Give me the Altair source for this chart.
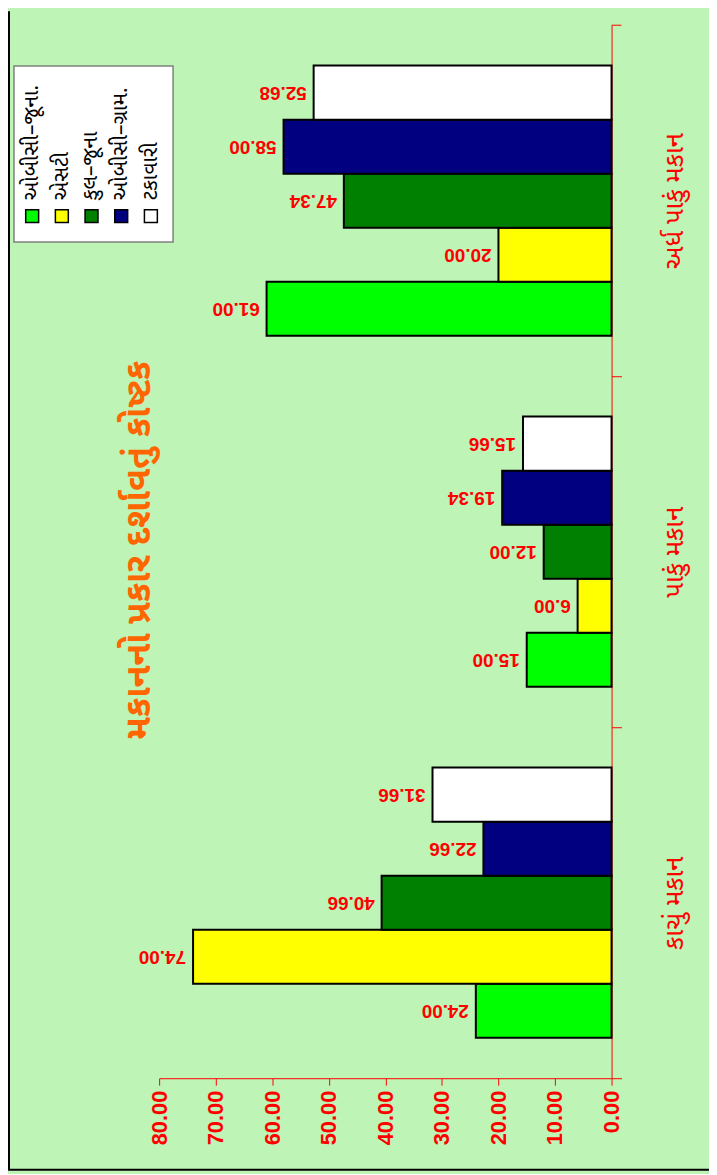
import altair as alt
import pandas as pd

categories = ["કાચું મકાન", "પાકું મકાન", "અર્ધ પાકું મકાન"]
series = ["ઓબીસી–જૂના.", "એસટી", "કુલ–જૂના", "ઓબીસી–ગ્રામ.", "ટકાવારી"]
colors = ["#00ff00", "#ffff00", "#008000", "#000080", "#ffffff"]
values_kachu = [24.00, 74.00, 40.66, 22.66, 31.66]
values_paku = [15.00, 6.00, 12.00, 19.34, 15.66]
values_ardh = [61.00, 20.00, 47.34, 58.00, 52.68]
value_ticks = [0, 10, 20, 30, 40, 50, 60, 70, 80]
title_text = "મકાનનો પ્રકાર દર્શાવતું કોષ્ટક"

rows = []
for cat, vals in zip(categories, [values_kachu, values_paku, values_ardh]):
    for s, v in zip(series, vals):
        rows.append({"cat": cat, "series": s, "value": v})
df = pd.DataFrame(rows)
legend_df = pd.DataFrame({"series": series})
title_df = pd.DataFrame({"t": [title_text]})
one = pd.DataFrame({"a": [0]})

GUJ = "Noto Sans Gujarati, Lohit Gujarati, Noto Sans, sans-serif"
NUM = "Liberation Sans, Arial, sans-serif"
STEP = 1059 / 3.0

x_enc = alt.X(
    "value:Q",
    scale=alt.Scale(domain=[0, 80], reverse=True, nice=False, zero=True),
    axis=alt.Axis(
        values=value_ticks, format=".2f", labelAngle=270, labelAlign="right",
        labelBaseline="middle", labelColor="red", labelFont=NUM,
        labelFontWeight="bold", labelFontSize=22, labelPadding=5,
        domainColor="red", tickColor="red", tickSize=7, grid=False,
        title=None, labelOverlap=False, labelFlush=False,
    ),
)
y_enc = alt.Y(
    "cat:N",
    sort=list(reversed(categories)),
    scale=alt.Scale(paddingInner=0.23, paddingOuter=0.115),
    axis=alt.Axis(
        orient="right", labelAngle=270, labelAlign="center", labelBaseline="top",
        labelColor="red", labelFont=GUJ, labelFontSize=26, labelPadding=40,
        domainColor="red", tickColor="red", tickSize=10,
        tickOffset=STEP / 2, labelOffset=-STEP / 2,
        grid=False, title=None,
    ),
)
yoff = alt.YOffset("series:N", sort=list(reversed(series)),
                   scale=alt.Scale(paddingInner=0, paddingOuter=0))
color = alt.Color("series:N", scale=alt.Scale(domain=series, range=colors), legend=None)

bars = alt.Chart(df).mark_bar(stroke="black", strokeWidth=2, opacity=1).encode(
    x=x_enc, y=y_enc, yOffset=yoff, color=color
)
labels = alt.Chart(df).mark_text(
    angle=180, align="left", baseline="middle", dx=7, color="red",
    font=NUM, fontWeight="bold", fontSize=19,
).encode(
    x="value:Q", y=alt.Y("cat:N", sort=list(reversed(categories))), yOffset=yoff,
    text=alt.Text("value:Q", format=".2f"),
)
main = alt.layer(bars, labels)

top_tick = alt.Chart(one).mark_rule(color="red", strokeWidth=1).encode(
    x=alt.value(455), x2=alt.value(465), y=alt.value(0)
)

leg_x = alt.X("series:N", sort=series,
              scale=alt.Scale(domain=series, range=[-127.7, -8.3], padding=0),
              axis=None)
box = alt.Chart(one).mark_rect(fill="white", stroke="#808080", strokeWidth=1.5).encode(
    x=alt.value(-146), x2=alt.value(14), y=alt.value(41), y2=alt.value(218)
)
swatches = alt.Chart(legend_df).mark_square(size=169, filled=True, stroke="black",
                                            strokeWidth=1.5, opacity=1).encode(
    x=leg_x, y=alt.value(192), color=color
)
leg_text = alt.Chart(legend_df).mark_text(
    angle=270, align="left", baseline="middle", fontSize=21, font=GUJ, color="black"
).encode(x=leg_x, y=alt.value(176), text="series:N")
legend = alt.layer(box, swatches, leg_text)

title = alt.Chart(title_df).mark_text(
    angle=270, align="center", baseline="middle", fontSize=36, fontWeight="bold",
    font=GUJ, color="#ff6600",
).encode(x=alt.value(-20), y=alt.value(528), text="t:N")

border_left = alt.Chart(one).mark_rule(color="black", strokeWidth=2).encode(
    x=alt.value(-151), y=alt.value(-14), y2=alt.value(1151)
)
border_bottom = alt.Chart(one).mark_rule(color="black", strokeWidth=2).encode(
    x=alt.value(-152), x2=alt.value(553), y=alt.value(1151)
)

chart = alt.layer(border_left, border_bottom, main, top_tick, legend, title).resolve_scale(
    x="independent"
).properties(
    width=455, height=1059,
    padding={"left": 152, "top": 14, "right": 98, "bottom": 93},
    autosize=alt.AutoSizeParams(type="none"),
    background="#bff4b7",
).configure_view(stroke=None)

chart.save("out.html", embed_options={"renderer": "svg", "actions": False})
